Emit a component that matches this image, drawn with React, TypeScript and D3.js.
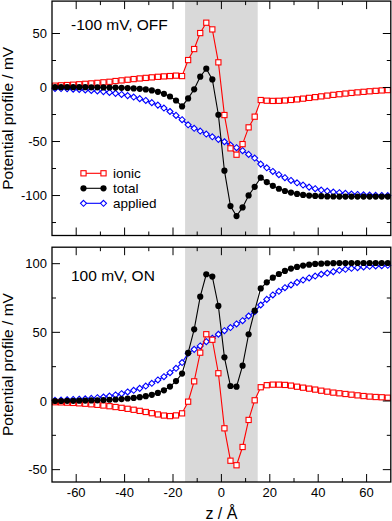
import * as d3 from 'd3';

// z positions (Å) of the sampled points
const zValues = [
  -68.75, -66.25, -63.75, -61.25, -58.75, -56.25, -53.75, -51.25, -48.75, -46.25,
  -43.75, -41.25, -38.75, -36.25, -33.75, -31.25, -28.75, -26.25, -23.75, -21.25,
  -18.75, -16.25, -13.75, -11.25, -8.75, -6.25, -3.75, -1.25, 1.25, 3.75,
  6.25, 8.75, 11.25, 13.75, 16.25, 18.75, 21.25, 23.75, 26.25, 28.75,
  31.25, 33.75, 36.25, 38.75, 41.25, 43.75, 46.25, 48.75, 51.25, 53.75,
  56.25, 58.75, 61.25, 63.75, 66.25, 68.75,
];

// -100 mV, OFF
const offIonic = [
  1.7, 2.0, 2.3, 2.6, 3.0, 3.4, 3.8, 4.3, 4.8, 5.3, 6.0, 6.6, 7.2, 7.8, 8.4, 8.9, 9.4, 9.9, 10.3, 10.6, 11.0, 10.6,
  25.4, 35.6, 50.4, 60.0, 53.8, 23.3, -25.5, -56.3, -62.2, -52.4, -36.9, -27.0, -11.6,
  -12.2, -12.4, -12.3, -12.0, -11.5, -11.0, -10.3, -9.6, -8.9, -8.2, -7.5, -6.8, -6.2, -5.6, -5.0, -4.5, -4.0, -3.5, -3.1, -2.7, -2.4,
];
const offTotal = [
  0.3, 0.3, 0.3, 0.3, 0.3, 0.3, 0.2, 0.2, 0.1, 0.0, -0.1, -0.3, -0.5, -0.8, -1.2, -1.8, -2.7, -4.0, -5.8, -8.3, -12.0, -17.5,
  -10.1, -1.7, 10.0, 17.4, 7.5, -25.2, -77.0, -109.8, -119.0, -111.0, -99.9, -91.9, -83.5,
  -87.5, -91.0, -93.7, -95.8, -97.3, -98.5, -99.4, -100.0, -100.4, -100.6, -100.8, -100.9, -101.0, -101.0, -101.0, -101.0, -101.0, -101.0, -101.0, -101.0, -101.0,
];
const offApplied = [
  -0.8, -1.0, -1.2, -1.5, -1.8, -2.2, -2.7, -3.2, -3.8, -4.5, -5.4, -6.4, -7.5, -8.8, -10.3, -12.0, -14.0, -16.3, -19.0, -22.2, -25.8, -29.8,
  -34.5, -37.8, -40.3, -43.1, -45.6, -48.0, -50.2, -53.3, -55.7, -58.5, -61.9, -65.3, -70.9,
  -74.3, -77.7, -80.7, -83.5, -86.0, -88.2, -90.3, -92.2, -93.7, -94.9, -95.9, -96.8, -97.4, -98.0, -98.6, -99.0, -99.3, -99.6, -99.8, -99.9, -100.0,
];

// 100 mV, ON
const onIonic = [
  -0.9, -1.0, -1.2, -1.4, -1.7, -2.0, -2.4, -2.8, -3.3, -3.8, -4.4, -5.0, -5.7, -6.4, -7.2, -8.0, -8.9, -9.8, -10.6, -11.0, -10.5, -9.0,
  -0.5, 14.3, 35.2, 48.6, 44.6, 20.2, -19.9, -43.5, -46.8, -33.5, -13.8, 0.5, 10.0,
  11.5, 11.9, 11.9, 11.7, 11.2, 10.4, 9.7, 9.0, 8.3, 7.5, 6.8, 6.1, 5.6, 5.1, 4.6, 4.1, 3.6, 3.2, 2.9, 2.7, 2.4,
];
const onTotal = [
  0.0, 0.0, 0.1, 0.1, 0.2, 0.3, 0.4, 0.5, 0.7, 0.9, 1.1, 1.4, 1.8, 2.2, 2.8, 3.5, 4.5, 5.9, 7.8, 10.5, 14.5, 20.0,
  35.0, 52.2, 76.0, 92.3, 90.6, 69.2, 31.8, 10.9, 10.4, 25.7, 48.6, 65.8, 82.0,
  86.4, 89.8, 92.5, 94.7, 96.4, 97.6, 98.6, 99.3, 99.8, 100.0, 100.3, 100.4, 100.5, 100.5, 100.5, 100.5, 100.5, 100.5, 100.5, 100.5, 100.5,
];
const onApplied = [
  0.5, 0.7, 0.9, 1.1, 1.3, 1.6, 1.9, 2.4, 2.9, 3.6, 4.4, 5.3, 6.6, 7.8, 9.2, 10.9, 12.9, 15.3, 17.7, 20.6, 23.8, 28.0,
  34.7, 37.6, 40.1, 43.2, 45.7, 48.6, 51.2, 53.5, 56.1, 58.5, 61.9, 65.0, 69.9,
  74.0, 77.2, 79.9, 82.5, 84.5, 86.4, 88.1, 89.6, 91.0, 92.3, 93.2, 94.2, 95.2, 95.9, 96.6, 97.1, 97.6, 98.1, 98.3, 98.5, 98.8,
];

const membrane = [-15, 15];
const xMajor = [-60, -40, -20, 0, 20, 40, 60];
const xMinor = [-50, -30, -10, 10, 30, 50];
const offMajor = [-100, -50, 0, 50];
const offMinor = [-125, -75, -25, 25];
const onMajor = [-50, 0, 50, 100];
const onMinor = [-25, 25, 75];
const legendNames = ['ionic', 'total', 'applied'];

const font = '"Liberation Sans", Arial, Helvetica, sans-serif';
const RED = '#ff0000';
const BLUE = '#0000ff';

const W = 392;
const H = 521;
const left = 52;
const right = 390.8;

const x = d3.scaleLinear().domain([-70, 70]).range([left, right]);

type Kind = 'square' | 'circle' | 'diamond';

function Marker({ kind, cx, cy }: { kind: Kind; cx: number; cy: number }) {
  if (kind === 'square')
    return <rect x={cx - 2.6} y={cy - 2.6} width={5.2} height={5.2} fill="#fff" stroke={RED} strokeWidth={1.1} />;
  if (kind === 'circle') return <circle cx={cx} cy={cy} r={3.1} fill="#000" />;
  const r = 3;
  return (
    <path
      d={`M${cx},${cy - r}L${cx + r},${cy}L${cx},${cy + r}L${cx - r},${cy}Z`}
      fill="#fff"
      stroke={BLUE}
      strokeWidth={1.1}
    />
  );
}

function Panel({
  top,
  bottom,
  domain,
  major,
  minor,
  ionic,
  total,
  applied,
  label,
  labelY,
  legend,
  xLabels,
}: {
  top: number;
  bottom: number;
  domain: [number, number];
  major: number[];
  minor: number[];
  ionic: number[];
  total: number[];
  applied: number[];
  label: string;
  labelY: number;
  legend?: boolean;
  xLabels?: boolean;
}) {
  const y = d3.scaleLinear().domain(domain).range([bottom, top]);
  const line = d3
    .line<number>()
    .x((_, i) => x(zValues[i]))
    .y((d) => y(d));

  const series: { vals: number[]; color: string; kind: Kind }[] = [
    { vals: ionic, color: RED, kind: 'square' },
    { vals: total, color: '#000', kind: 'circle' },
    { vals: applied, color: BLUE, kind: 'diamond' },
  ];
  // draw order: applied, ionic, total
  const order = [2, 0, 1];

  return (
    <g>
      <rect
        x={x(membrane[0])}
        y={top}
        width={x(membrane[1]) - x(membrane[0])}
        height={bottom - top}
        fill="#d9d9d9"
      />
      {order.map((si) => {
        const s = series[si];
        return (
          <g key={si}>
            <path d={line(s.vals) ?? ''} fill="none" stroke={s.color} strokeWidth={1.1} />
            {s.vals.map((v, i) => (
              <Marker key={i} kind={s.kind} cx={x(zValues[i])} cy={y(v)} />
            ))}
          </g>
        );
      })}

      {/* ticks, pointing inwards on all four sides */}
      <g stroke="#000" strokeWidth={1}>
        {xMajor.map((t) => (
          <g key={'xM' + t}>
            <line x1={x(t)} x2={x(t)} y1={bottom} y2={bottom - 8} />
            <line x1={x(t)} x2={x(t)} y1={top} y2={top + 8} />
          </g>
        ))}
        {xMinor.map((t) => (
          <g key={'xm' + t}>
            <line x1={x(t)} x2={x(t)} y1={bottom} y2={bottom - 4} />
            <line x1={x(t)} x2={x(t)} y1={top} y2={top + 4} />
          </g>
        ))}
        {major.map((t) => (
          <g key={'yM' + t}>
            <line x1={left} x2={left + 8} y1={y(t)} y2={y(t)} />
            <line x1={right} x2={right - 8} y1={y(t)} y2={y(t)} />
          </g>
        ))}
        {minor.map((t) => (
          <g key={'ym' + t}>
            <line x1={left} x2={left + 4} y1={y(t)} y2={y(t)} />
            <line x1={right} x2={right - 4} y1={y(t)} y2={y(t)} />
          </g>
        ))}
      </g>
      <rect x={left} y={top} width={right - left} height={bottom - top} fill="none" stroke="#000" strokeWidth={1.3} />

      <g fontFamily={font} fontSize={13} fill="#000">
        {major.map((t) => (
          <text key={t} x={left - 5} y={y(t)} dy="0.35em" textAnchor="end">
            {t}
          </text>
        ))}
        {xLabels &&
          xMajor.map((t) => (
            <text key={t} x={x(t)} y={bottom + 15} textAnchor="middle">
              {t}
            </text>
          ))}
      </g>

      <text x={71} y={labelY} fontFamily={font} fontSize={15.5} fill="#000">
        {label}
      </text>

      <text
        transform={`translate(12.8, ${(top + bottom) / 2}) rotate(-90)`}
        textAnchor="middle"
        fontFamily={font}
        fontSize={15.5}
        fill="#000"
      >
        Potential profile / mV
      </text>

      {legend && (
        <g fontFamily={font} fontSize={13.5}>
          {series.map((s, i) => {
            const ly = 173.3 + i * 15;
            return (
              <g key={i}>
                <line x1={83.5} x2={103.5} y1={ly} y2={ly} stroke={s.color} strokeWidth={1.1} />
                <Marker kind={s.kind} cx={83.5} cy={ly} />
                <Marker kind={s.kind} cx={103.5} cy={ly} />
                <text x={113} y={ly} dy="0.35em" fill="#000">
                  {legendNames[i]}
                </text>
              </g>
            );
          })}
        </g>
      )}
    </g>
  );
}

export default function App() {
  return (
    <svg
      width={W}
      height={H}
      style={{ position: 'absolute', left: 0, top: 0, background: '#fff' }}
    >
      <Panel
        top={1.1}
        bottom={235.5}
        domain={[-137, 80]}
        major={offMajor}
        minor={offMinor}
        ionic={offIonic}
        total={offTotal}
        applied={offApplied}
        label="-100 mV, OFF"
        labelY={30}
        legend
      />
      <Panel
        top={247.2}
        bottom={482}
        domain={[-59, 112]}
        major={onMajor}
        minor={onMinor}
        ionic={onIonic}
        total={onTotal}
        applied={onApplied}
        label="100 mV, ON"
        labelY={280.7}
        xLabels
      />
      <text x={x(0)} y={518.5} textAnchor="middle" fontFamily={font} fontSize={16} fill="#000">
        z / Å
      </text>
    </svg>
  );
}
